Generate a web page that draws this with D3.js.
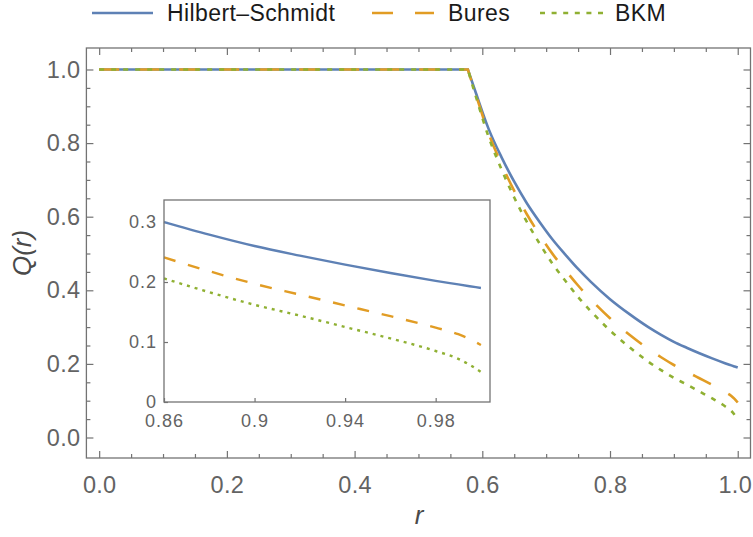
<!DOCTYPE html>
<html>
<head>
<meta charset="utf-8">
<script src="https://cdn.jsdelivr.net/npm/d3@7"></script>
<style>
    body { margin: 0; background: #fff; }
    svg { display: block; font-family: "Liberation Sans", Arial, sans-serif; }
</style>
</head>
<body>
<svg id="chart" width="753" height="537"></svg>
<script>
// 数据
const rValues = [0, 0.5774, 0.59, 0.61, 0.63, 0.65, 0.67, 0.69, 0.71, 0.73, 0.75, 0.77, 0.80, 0.83, 0.86, 0.88, 0.90, 0.92, 0.94, 0.96, 0.98, 0.99, 0.995, 1.00];
const hilbertSchmidt = [1, 1, 0.936, 0.838, 0.762, 0.695, 0.636, 0.585, 0.538, 0.497, 0.458, 0.423, 0.376, 0.336, 0.300, 0.279, 0.260, 0.244, 0.229, 0.215, 0.202, 0.196, 0.193, 0.190];
const bures = [1, 1, 0.931, 0.826, 0.743, 0.670, 0.606, 0.550, 0.499, 0.455, 0.413, 0.375, 0.324, 0.280, 0.241, 0.218, 0.197, 0.179, 0.161, 0.143, 0.124, 0.113, 0.105, 0.095];
const bkm = [1, 1, 0.926, 0.816, 0.729, 0.652, 0.585, 0.526, 0.472, 0.426, 0.382, 0.343, 0.291, 0.246, 0.206, 0.183, 0.162, 0.144, 0.125, 0.106, 0.085, 0.072, 0.062, 0.050];

const seriesNames = ['Hilbert\u2013Schmidt', 'Bures', 'BKM'];
const mainTicks = [0, 0.2, 0.4, 0.6, 0.8, 1.0];
const mainTickLabels = ['0.0', '0.2', '0.4', '0.6', '0.8', '1.0'];
const insetXTicks = [0.86, 0.9, 0.94, 0.98];
const insetXLabels = ['0.86', '0.9', '0.94', '0.98'];
const insetYTicks = [0, 0.1, 0.2, 0.3];
const insetYLabels = ['0', '0.1', '0.2', '0.3'];

const colors = ['#5e81b5', '#e19c24', '#8fb032'];
const mainDash = [null, '20,20', '5,7'];
const insetDash = [null, '12,13', '3,5'];

const svg = d3.select('#chart');
const frameColor = '#737373';
const labelColor = '#636363';

const seriesData = [hilbertSchmidt, bures, bkm].map(vals =>
    rValues.map((r, i) => ({ r: r, q: vals[i] })));

// 主图
const M = { left: 86.4, right: 750.5, top: 48, bottom: 458 };
const x = d3.scaleLinear().domain([-0.02, 1.02]).range([M.left, M.right]);
const y = d3.scaleLinear().domain([-0.0557, 1.0584]).range([M.bottom, M.top]);

const minorTicks = d3.range(0, 1.0001, 0.05).filter(v => Math.abs(Math.round(v * 5) - v * 5) > 1e-6);

function tickAxis(axisFn, scale, values, size, labels, pad) {
    const a = axisFn(scale).tickValues(values).tickSizeInner(-size).tickSizeOuter(0).tickPadding(pad || 4);
    a.tickFormat(labels ? (d, i) => labels[i] : () => '');
    return a;
}

function styleAxis(g, fontSize, spacing) {
    g.attr('font-family', null).attr('font-size', null);
    g.select('.domain').remove();
    g.selectAll('line').attr('stroke', frameColor).attr('stroke-width', 1.2);
    g.selectAll('text')
        .attr('fill', labelColor)
        .style('font-size', fontSize + 'px')
        .style('letter-spacing', spacing + 'px');
}

// 刻度
[
    [d3.axisBottom, `translate(0,${M.bottom})`, x, true],
    [d3.axisTop, `translate(0,${M.top})`, x, false],
    [d3.axisLeft, `translate(${M.left},0)`, y, true],
    [d3.axisRight, `translate(${M.right},0)`, y, false]
].forEach(([fn, tr, sc, withLabels]) => {
    const pad = fn === d3.axisBottom ? 18 : 6;
    const g = svg.append('g').attr('transform', tr)
        .call(tickAxis(fn, sc, mainTicks, 7, withLabels ? mainTickLabels : null, pad))
        .call(g => styleAxis(g, 23.5, 0.3));
    if (fn === d3.axisBottom) {
        // 最右侧标签贴边，稍向左收
        g.selectAll('text').filter(d => d === 1).attr('dx', -3);
    }
    svg.append('g').attr('transform', tr)
        .call(tickAxis(fn, sc, minorTicks, 4, null))
        .call(g => styleAxis(g, 24, 0));
});

svg.append('rect')
    .attr('x', M.left).attr('y', M.top)
    .attr('width', M.right - M.left).attr('height', M.bottom - M.top)
    .attr('fill', 'none').attr('stroke', frameColor).attr('stroke-width', 1.3);

// 曲线：平台段用直线，下降段用平滑曲线
function curvePath(pts, xs, ys) {
    const lin = d3.line().x(d => xs(d.r)).y(d => ys(d.q));
    const mono = d3.line().curve(d3.curveMonotoneX).x(d => xs(d.r)).y(d => ys(d.q));
    return lin(pts.slice(0, 2)) + mono(pts.slice(1)).replace(/^M/, 'L');
}

seriesData.forEach((pts, i) => {
    svg.append('path')
        .attr('d', curvePath(pts, x, y))
        .attr('fill', 'none')
        .attr('stroke', colors[i])
        .attr('stroke-width', 2.6)
        .attr('stroke-dasharray', mainDash[i]);
});

// 坐标轴标题
svg.append('text')
    .attr('x', 419).attr('y', 524)
    .attr('text-anchor', 'middle')
    .attr('fill', '#4a4a4a')
    .style('font-size', '26px').style('font-style', 'italic')
    .text('r');

svg.append('text')
    .attr('transform', `translate(31,${(M.top + M.bottom) / 2}) rotate(-90)`)
    .attr('text-anchor', 'middle')
    .attr('fill', '#4a4a4a')
    .style('font-size', '26px').style('font-style', 'italic')
    .text('Q(r)');

// 插图
const I = { left: 164, right: 490, top: 200, bottom: 402 };
const xi = d3.scaleLinear().domain([0.86, 1.004]).range([I.left, I.right]);
const yi = d3.scaleLinear().domain([0, 0.3367]).range([I.bottom, I.top]);

svg.append('rect')
    .attr('x', I.left).attr('y', I.top)
    .attr('width', I.right - I.left).attr('height', I.bottom - I.top)
    .attr('fill', '#fff');

svg.append('g').attr('transform', `translate(0,${I.bottom})`)
    .call(tickAxis(d3.axisBottom, xi, insetXTicks, 4, insetXLabels, 12))
    .call(g => styleAxis(g, 18, 1));
svg.append('g').attr('transform', `translate(${I.left},0)`)
    .call(tickAxis(d3.axisLeft, yi, insetYTicks, 4, insetYLabels, 7))
    .call(g => styleAxis(g, 18, 1));

const insetLine = d3.line().curve(d3.curveMonotoneX).x(d => xi(d.r)).y(d => yi(d.q));
seriesData.forEach((pts, i) => {
    svg.append('path')
        .attr('d', insetLine(pts.filter(d => d.r >= 0.86)))
        .attr('fill', 'none')
        .attr('stroke', colors[i])
        .attr('stroke-width', 2.4)
        .attr('stroke-dasharray', insetDash[i]);
});

svg.append('rect')
    .attr('x', I.left).attr('y', I.top)
    .attr('width', I.right - I.left).attr('height', I.bottom - I.top)
    .attr('fill', 'none').attr('stroke', frameColor).attr('stroke-width', 1.3);

// 图例
const legendItems = [
    { x1: 92, x2: 153, tx: 167, dash: null },
    { x1: 372, x2: 434, tx: 448, dash: '21,22' },
    { x1: 540, x2: 603, tx: 615, dash: '5,6.6' }
];
legendItems.forEach((item, i) => {
    svg.append('line')
        .attr('x1', item.x1).attr('x2', item.x2)
        .attr('y1', 13).attr('y2', 13)
        .attr('stroke', colors[i]).attr('stroke-width', 2.6)
        .attr('stroke-dasharray', item.dash);
    svg.append('text')
        .attr('x', item.tx).attr('y', 21)
        .attr('fill', '#1a1a1a')
        .style('font-size', '23px')
        .style('letter-spacing', '0.4px')
        .text(seriesNames[i]);
});
</script>
</body>
</html>
